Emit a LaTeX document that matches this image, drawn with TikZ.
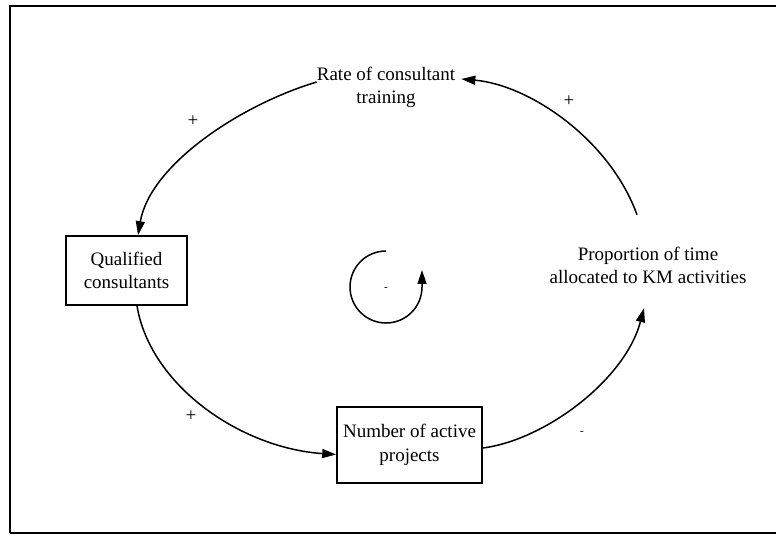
\documentclass[tikz,border=0pt]{standalone}
\usepackage{fontspec}
\setmainfont{Liberation Serif}
\usetikzlibrary{arrows.meta}
\begin{document}
\begin{tikzpicture}[x=1pt,y=-1pt,
  every node/.style={font=\fontsize{19}{23.5}\selectfont},
  var/.style={align=center, inner sep=0pt},
  stock/.style={draw, line width=1.6pt, align=center, inner sep=2pt},
  link/.style={line width=1.5pt, -{Triangle[length=14pt,width=9pt]}},
  sign/.style={inner sep=0pt},
  smallsign/.style={inner sep=0pt, font=\fontsize{11}{12}\selectfont}]
\useasboundingbox (0,0) rectangle (776,537);
% frame
\draw[line width=1.8pt] (776,6) -- (10,6) -- (10,533);
\draw[line width=2.8pt] (10,533) -- (776,533);

% variables
\node[var] (rate) at (386,87.5) {Rate of consultant\\training};
\node[var] (prop) at (648,265.5) {Proportion of time\\allocated to KM activities};
\node[stock, minimum width=121pt, minimum height=69pt] (qual) at (126.5,270.5) {Qualified\\consultants};
\node[stock, minimum width=145pt, minimum height=76pt] (proj) at (409.5,445) {Number of active\\projects};

% causal links
\draw[link] ([yshift=5.5pt]rate.west) .. controls (240,105) and (150,165) .. ([xshift=11.5pt]qual.north);
\draw[link] ([shift={(-11pt,32pt)}]prop.north) .. controls (610,140) and (530,85) .. ([xshift=6pt,yshift=8.5pt]rate.east);
\draw[link] ([xshift=10.5pt]qual.south) .. controls (150,385) and (240,448) .. ([yshift=-9.5pt]proj.west);
\draw[link] ([yshift=-3pt]proj.east) .. controls (545,440) and (625,380) .. ([shift={(-4pt,-24pt)}]prop.south);

% polarity signs
\node[sign] (s1) at (193,121) {+};
\node[sign] (s2) at (569,101) {+};
\node[sign] (s3) at (191,416) {+};
\node[smallsign] (s4) at (582,433) {-};

% loop marker
\node[smallsign] (loop) at (386,289) {-};
\draw[link] (loop.center) ++(0,-38) arc[start angle=270, end angle=0, radius=36] -- ++(0,-17);
\end{tikzpicture}
\end{document}
